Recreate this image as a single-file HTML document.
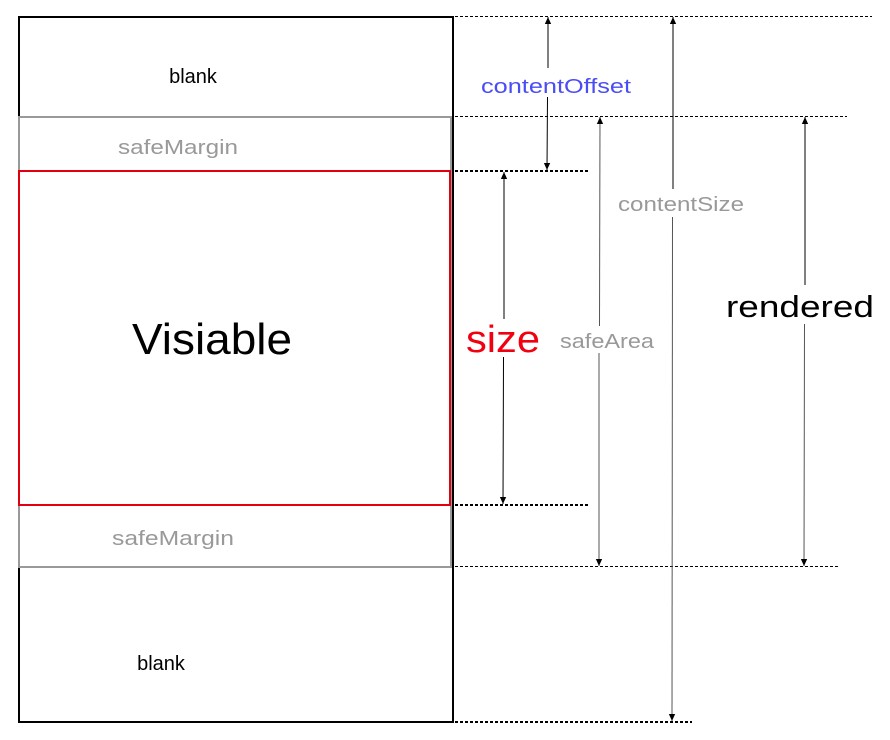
<!DOCTYPE html>
<html><head><meta charset="utf-8"><style>html,body{margin:0;padding:0;background:#fff}svg{display:block}text{font-family:"Liberation Sans",sans-serif}</style></head>
<body>
<svg width="890" height="740" viewBox="0 0 890 740" xmlns="http://www.w3.org/2000/svg">
<defs>
<marker id="a" viewBox="0 0 10 10" refX="10" refY="5" markerWidth="11" markerHeight="7" markerUnits="userSpaceOnUse" orient="auto"><path d="M0,0.5 L10,5 L0,9.5 z" fill="#000"/></marker>
</defs>
<rect x="19" y="17" width="434" height="705" fill="none" stroke="#000" stroke-width="2"/>
<rect x="19" y="117" width="432" height="450" fill="none" stroke="#999" stroke-width="2"/>
<rect x="19" y="171" width="431" height="334" fill="none" stroke="#e00010" stroke-width="2"/>
<g stroke="#000" stroke-width="1" stroke-dasharray="3,2">
<line x1="455" y1="16.5" x2="872" y2="16.5"/>
<line x1="455" y1="116.5" x2="847" y2="116.5"/>
<line x1="455" y1="566.5" x2="840" y2="566.5"/>
</g>
<g stroke="#000" stroke-width="2" stroke-dasharray="3,2">
<line x1="455" y1="171" x2="590" y2="171"/>
<line x1="455" y1="505" x2="590" y2="505"/>
<line x1="455" y1="722" x2="692" y2="722"/>
</g>
<g stroke="#000" stroke-width="1" fill="none">
<line x1="548" y1="68" x2="548" y2="17" marker-end="url(#a)"/>
<line x1="547.5" y1="97" x2="547" y2="170" marker-end="url(#a)"/>
<line x1="504" y1="319" x2="504" y2="172" marker-end="url(#a)"/>
<line x1="503.5" y1="357" x2="503" y2="504" marker-end="url(#a)"/>
<line x1="599.5" y1="326" x2="600" y2="117" marker-end="url(#a)" stroke="#555"/>
<line x1="599" y1="353" x2="599" y2="566" marker-end="url(#a)" stroke="#555"/>
<line x1="673" y1="189" x2="673" y2="17" marker-end="url(#a)"/>
<line x1="672.5" y1="217" x2="672" y2="721" marker-end="url(#a)" stroke="#555"/>
<line x1="805" y1="285" x2="805" y2="117" marker-end="url(#a)"/>
<line x1="804.5" y1="324" x2="804" y2="566" marker-end="url(#a)" stroke="#555"/>
</g>
<text x="193" y="83" font-size="20" text-anchor="middle" fill="#000">blank</text>
<text x="178" y="154" font-size="20" text-anchor="middle" fill="#999" textLength="120" lengthAdjust="spacingAndGlyphs">safeMargin</text>
<text x="212" y="354" font-size="44" text-anchor="middle" fill="#000" textLength="160" lengthAdjust="spacingAndGlyphs">Visiable</text>
<text x="173" y="545" font-size="20" text-anchor="middle" fill="#999" textLength="122" lengthAdjust="spacingAndGlyphs">safeMargin</text>
<text x="161" y="670" font-size="20" text-anchor="middle" fill="#000">blank</text>
<text x="556" y="93" font-size="20" text-anchor="middle" fill="#4a4cf5" textLength="150" lengthAdjust="spacingAndGlyphs">contentOffset</text>
<text x="681" y="211" font-size="20" text-anchor="middle" fill="#999" textLength="126" lengthAdjust="spacingAndGlyphs">contentSize</text>
<text x="503" y="352" font-size="38" text-anchor="middle" fill="#f00010" textLength="74" lengthAdjust="spacingAndGlyphs">size</text>
<text x="607" y="348" font-size="20" text-anchor="middle" fill="#999" textLength="94" lengthAdjust="spacingAndGlyphs">safeArea</text>
<text x="800" y="317" font-size="31" text-anchor="middle" fill="#000" textLength="148" lengthAdjust="spacingAndGlyphs">rendered</text>
</svg>
</body></html>
